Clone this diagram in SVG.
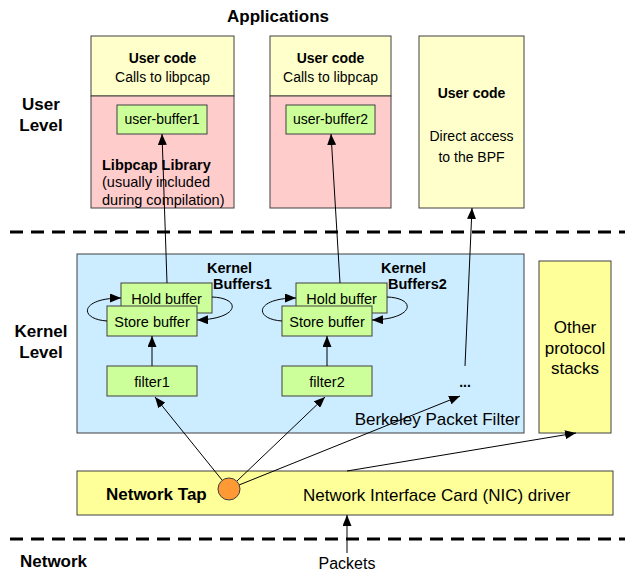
<svg xmlns="http://www.w3.org/2000/svg" width="625" height="575" viewBox="0 0 625 575">
<defs>
<marker id="ah" markerUnits="userSpaceOnUse" markerWidth="11" markerHeight="9" refX="11" refY="4.5" orient="auto">
<path d="M0,0 L11,4.5 L0,9 z" fill="#000"/>
</marker>
<style>
text{font-family:"Liberation Sans",Arial,sans-serif;fill:#000}
.b{font-weight:bold}
.t14{font-size:14px}
.t145{font-size:14.5px}
.t17{font-size:17px}
.c{text-anchor:middle}
.box{stroke:#404040;stroke-width:1}
.yl{fill:#FFFFCC}
.pk{fill:#FFCCCC}
.gr{fill:#CCFF99}
.bl{fill:#CCECFF}
.yy{fill:#FFFF99}
.ln{stroke:#000;stroke-width:1;fill:none}
.ar{stroke:#000;stroke-width:1;fill:none;marker-end:url(#ah)}
.dash{stroke:#000;stroke-width:3;stroke-dasharray:13 8}
</style>
</defs>
<rect width="625" height="575" fill="#fff"/>

<g id="layers">
<line class="dash" x1="10" y1="232" x2="625" y2="232"/>
<line class="dash" x1="10" y1="539" x2="625" y2="539"/>
<text class="b t17 c" x="278" y="22">Applications</text>
<text class="b t17 c" x="41" y="110">User</text>
<text class="b t17 c" x="41" y="131">Level</text>
<text class="b t17 c" x="41" y="337">Kernel</text>
<text class="b t17 c" x="41" y="358">Level</text>
<text class="b t17" x="20" y="567">Network</text>
</g>

<g id="app1">
<rect class="box yl" x="91" y="36" width="143" height="60"/>
<rect class="box pk" x="91" y="96" width="143" height="112"/>
<text class="b t14 c" x="162.5" y="63">User code</text>
<text class="t14 c" x="162.5" y="82">Calls to libpcap</text>
<text class="b t145" x="102" y="170">Libpcap Library</text>
<text class="t145" x="102" y="187">(usually included</text>
<text class="t145" x="102" y="205">during compilation)</text>
</g>
<g id="ubuf1">
<rect class="box gr" x="117" y="105" width="90" height="29"/>
<text class="t14 c" x="162" y="124">user-buffer1</text>
</g>

<g id="app2">
<rect class="box yl" x="270" y="36" width="121" height="60"/>
<rect class="box pk" x="270" y="96" width="121" height="112"/>
<text class="b t14 c" x="330.5" y="63">User code</text>
<text class="t14 c" x="330.5" y="82">Calls to libpcap</text>
</g>
<g id="ubuf2">
<rect class="box gr" x="286" y="105" width="89" height="29"/>
<text class="t14 c" x="330.5" y="124">user-buffer2</text>
</g>

<g id="app3">
<rect class="box yl" x="419" y="36" width="105" height="172"/>
<text class="b t14 c" x="471.5" y="98">User code</text>
<text class="t14 c" x="471.5" y="141">Direct access</text>
<text class="t14 c" x="471.5" y="162">to the BPF</text>
</g>

<g id="bpf">
<rect class="box bl" x="77" y="254" width="447" height="179"/>
<text class="t17" x="520" y="425" text-anchor="end">Berkeley Packet Filter</text>
<text class="b t145" x="207" y="273">Kernel</text>
<text class="b t145" x="213" y="289">Buffers1</text>
<text class="b t145" x="381" y="273">Kernel</text>
<text class="b t145" x="388" y="289">Buffers2</text>
<text class="b t14 c" x="465" y="387">...</text>
</g>

<g id="other">
<rect class="box yy" x="539" y="261" width="72" height="172"/>
<text class="t17 c" x="575" y="333">Other</text>
<text class="t17 c" x="575" y="354">protocol</text>
<text class="t17 c" x="575" y="374">stacks</text>
</g>

<g id="hold1">
<rect class="box gr" x="121" y="283" width="91" height="30"/>
<text class="t145 c" x="166.5" y="304">Hold buffer</text>
</g>
<g id="store1">
<rect class="box gr" x="107" y="306" width="90" height="30"/>
<text class="t145 c" x="152" y="327">Store buffer</text>
</g>
<g id="filter1">
<rect class="box gr" x="107" y="366" width="90" height="30"/>
<text class="t145 c" x="152" y="387">filter1</text>
</g>

<g id="hold2">
<rect class="box gr" x="296" y="283" width="91" height="30"/>
<text class="t145 c" x="341.5" y="304">Hold buffer</text>
</g>
<g id="store2">
<rect class="box gr" x="282" y="306" width="90" height="30"/>
<text class="t145 c" x="327" y="327">Store buffer</text>
</g>
<g id="filter2">
<rect class="box gr" x="282" y="366" width="90" height="30"/>
<text class="t145 c" x="327" y="387">filter2</text>
</g>

<g id="nic">
<rect class="box yy" x="77" y="471" width="536" height="44"/>
<text class="b t17" x="106" y="500">Network Tap</text>
<text class="t17" x="303" y="501">Network Interface Card (NIC) driver</text>
</g>

<g id="connectors">
<path class="ar" d="M107,321 C78,319 80,298 121,298"/>
<path class="ar" d="M212,297 C242,298 240,319 197,320"/>
<path class="ar" d="M282,321 C253,319 255,298 296,298"/>
<path class="ar" d="M387,297 C417,298 415,319 372,320"/>
<line class="ar" x1="152" y1="366" x2="152" y2="336"/>
<line class="ar" x1="327" y1="366" x2="327" y2="336"/>
<line class="ar" x1="167" y1="283" x2="162" y2="134"/>
<line class="ar" x1="340" y1="283" x2="331" y2="134"/>
<line class="ar" x1="465" y1="366" x2="472" y2="208"/>
<line class="ar" x1="222" y1="480" x2="155" y2="397"/>
<line class="ar" x1="237" y1="481" x2="325" y2="397"/>
<line class="ar" x1="239" y1="485" x2="460" y2="396"/>
<line class="ar" x1="347" y1="471" x2="576" y2="433"/>
<line class="ar" x1="347" y1="553" x2="347" y2="515"/>
</g>

<g id="tap">
<circle cx="229" cy="489" r="11" fill="#FF9933" stroke="#404040" stroke-width="1"/>
</g>

<g id="packets">
<text class="c" x="347" y="569" style="font-size:16px">Packets</text>
</g>
</svg>
